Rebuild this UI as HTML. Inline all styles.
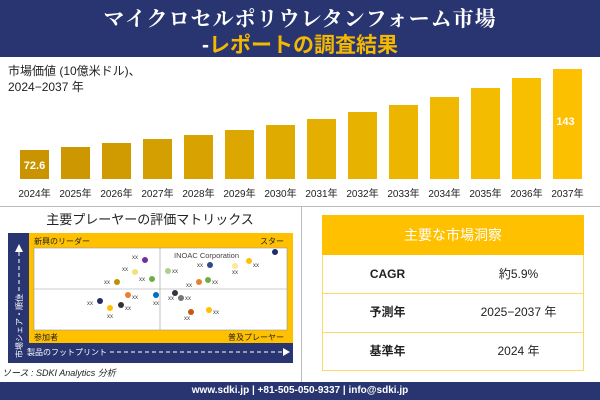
<!DOCTYPE html>
<html><head><meta charset="utf-8"><style>
body{margin:0;width:600px;height:400px;overflow:hidden;background:#fff;font-family:"Liberation Sans","Noto Sans CJK JP",sans-serif;position:relative}
.a{position:absolute}
</style></head><body>
<div class="a" style="left:0;top:0;width:600px;height:57px;background:#283570"></div>
<div class="a" style="left:0;top:3px;width:600px;text-align:center;color:#fff;font-family:'Noto Serif CJK SC',serif;font-size:21px;font-weight:bold;letter-spacing:1px">マイクロセルポリウレタンフォーム市場</div>
<div class="a" style="left:0;top:29px;width:600px;text-align:center;color:#f5b800;font-size:21px;font-weight:bold"><span style="color:#fff">-</span>レポートの調査結果</div>
<div class="a" style="left:8px;top:63px;font-size:12px;color:#222;line-height:16px">市場価値 (10億米ドル)、<br>2024−2037 年</div>
<svg class="a" style="left:0;top:0" width="600" height="400">
<g id="bars"></g>
</svg>
<script>
var tops=[150,147,143,139,135,130,125,119,112,105,97,88,78,69];
var s='';
for(var i=0;i<14;i++){var x=20+i*41;var c=['#c99400','#cc9700','#d09b00','#d49f00','#d8a300','#dca700','#e0ab00','#e4af00','#e8b300','#ecb600','#f0b900','#f4bc00','#f8be00','#fcc000'][i];
s+='<rect x="'+x+'" y="'+tops[i]+'" width="29" height="'+(179-tops[i])+'" fill="'+c+'"/>';
s+='<text x="'+(x+14.5)+'" y="197" font-size="10" text-anchor="middle" fill="#222">'+(2024+i)+'年</text>';}
s+='<text x="34.5" y="169" font-size="11" font-weight="bold" fill="#fff" text-anchor="middle">72.6</text>';
s+='<text x="565.5" y="125" font-size="11" font-weight="bold" fill="#fff" text-anchor="middle">143</text>';
document.getElementById('bars').innerHTML=s;
</script>
<div class="a" style="left:0;top:206px;width:600px;height:1px;background:#bbb"></div>
<div class="a" style="left:301px;top:206px;width:1px;height:176px;background:#bbb"></div>
<div class="a" style="left:0;top:209px;width:300px;text-align:center;font-size:13px;color:#222">主要プレーヤーの評価マトリックス</div>
<svg class="a" style="left:0;top:0" width="300" height="400">
<rect x="8" y="233" width="285" height="130" fill="#283570"/>
<rect x="29" y="233" width="264" height="110" fill="#ffc000"/>
<rect x="34" y="248" width="253" height="82" fill="#fff" stroke="#999" stroke-width=".6"/>
<line x1="160" y1="248" x2="160" y2="330" stroke="#999" stroke-width=".6"/>
<line x1="34" y1="289" x2="287" y2="289" stroke="#999" stroke-width=".6"/>
<text x="34" y="244" font-size="8" fill="#222">新興のリーダー</text>
<text x="284" y="244" font-size="8" fill="#222" text-anchor="end">スター</text>
<text x="34" y="340" font-size="8" fill="#222">参加者</text>
<text x="284" y="340" font-size="8" fill="#222" text-anchor="end">普及プレーヤー</text>
<text x="174" y="258" font-size="7.5" fill="#444">INOAC Corporation</text>
<text x="27" y="355" font-size="8" fill="#fff">製品のフットプリント</text>
<line x1="110" y1="352" x2="284" y2="352" stroke="#fff" stroke-dasharray="4,3"/>
<polygon points="290,352 283,348 283,356" fill="#fff"/>
<line x1="19" y1="252" x2="19" y2="300" stroke="#fff" stroke-dasharray="4,3"/>
<polygon points="19,244 15,252 23,252" fill="#fff"/>
<text x="0" y="0" font-size="8" fill="#fff" transform="translate(22,358) rotate(-90)">市場シェア・順位</text>
<g font-size="6" fill="#444" id="dots"></g>
</svg>
<script>
var d=[[145,260,'#7030a0',-13,-3],[135,272,'#f0e080',-13,-3],[117,282,'#c09000',-13,0],[152,279,'#70ad47',-13,0],[168,271,'#a9d18e',4,0],[210,265,'#2f4a8a',-13,0],[249,261,'#ffc000',4,4],[235,266,'#ffe699',-3,6],[275,252,'#1f2d6a',0,0],[199,282,'#ed7d31',-13,3],[208,280,'#70ad47',4,2],[128,295,'#ed7d31',4,2],[156,295,'#0070c0',-3,8],[100,301,'#1f2d6a',-13,2],[110,308,'#ffc000',-3,8],[121,305,'#333',4,3],[175,293,'#334',-7,5],[181,298,'#777',4,0],[191,312,'#c55a11',-7,6],[209,310,'#ffc000',4,2]];
var t='';d.forEach(function(p){t+='<circle cx="'+p[0]+'" cy="'+p[1]+'" r="3" fill="'+p[2]+'"/>';if(p[0]!=275)t+='<text x="'+(p[0]+p[3])+'" y="'+(p[1]+p[4]+2)+'">xx</text>';});
document.getElementById('dots').innerHTML=t;
</script>
<div class="a" style="left:2px;top:366px;font-size:9px;font-style:italic;color:#222">ソース : SDKI Analytics 分析</div>
<div class="a" style="left:322px;top:215px;width:262px;height:156px;border:1px solid #ffd966;box-sizing:border-box"></div>
<div class="a" style="left:322px;top:215px;width:262px;height:40px;background:#ffc000;color:#fff;font-size:14px;text-align:center;line-height:40px">主要な市場洞察</div>
<div class="a" style="left:322px;top:293px;width:262px;height:1px;background:#ffd966"></div>
<div class="a" style="left:322px;top:332px;width:262px;height:1px;background:#ffd966"></div>
<div class="a" style="left:322px;top:255px;width:131px;line-height:38px;text-align:center;font-size:12px;font-weight:bold;color:#222">CAGR</div>
<div class="a" style="left:453px;top:255px;width:131px;line-height:38px;text-align:center;font-size:12px;color:#222">約5.9%</div>
<div class="a" style="left:322px;top:293px;width:131px;line-height:39px;text-align:center;font-size:12px;font-weight:bold;color:#222">予測年</div>
<div class="a" style="left:453px;top:293px;width:131px;line-height:39px;text-align:center;font-size:12px;color:#222">2025−2037 年</div>
<div class="a" style="left:322px;top:332px;width:131px;line-height:39px;text-align:center;font-size:12px;font-weight:bold;color:#222">基準年</div>
<div class="a" style="left:453px;top:332px;width:131px;line-height:39px;text-align:center;font-size:12px;color:#222">2024 年</div>
<div class="a" style="left:0;top:382px;width:600px;height:18px;background:#283570;color:#fff;font-size:10px;text-align:center;line-height:18px;font-weight:bold">www.sdki.jp | +81-505-050-9337 | info@sdki.jp</div>
</body></html>
